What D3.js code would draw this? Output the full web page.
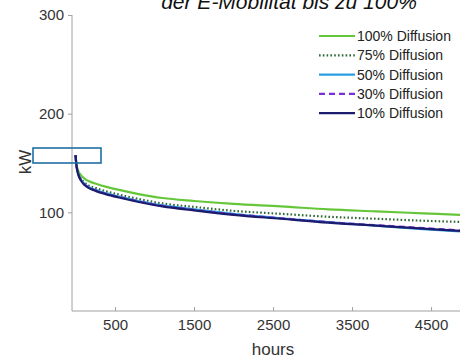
<!DOCTYPE html>
<html>
<head>
<meta charset="utf-8">
<script src="https://cdn.jsdelivr.net/npm/d3@7"></script>
<style>
  body { margin: 0; background: #fff; }
  svg { display: block; font-family: "Liberation Sans", Arial, sans-serif; }
</style>
</head>
<body>
<div id="chart"></div>
<script>
var hours = [0, 8, 20, 40, 70, 110, 170, 260, 380, 550, 800, 1100, 1500, 2000, 2600, 3200, 3800, 4400, 5000];
var d100 = [158, 151, 145.5, 141, 137.5, 134.5, 131.5, 129, 126, 122.7, 118.5, 114.5, 111.5, 108.5, 106, 103, 101, 99, 97];
var d75 = [158, 150.5, 144, 138.5, 134, 130.5, 127, 124.5, 121.5, 118, 113.5, 109, 105.5, 101.5, 98.5, 95.5, 93.5, 91.5, 90];
var d50 = [158, 150, 143.5, 137.5, 133, 129, 125.5, 122.5, 119.5, 116, 111.5, 107, 103, 98.5, 94, 90, 86.5, 83, 80];
var d30 = [158, 150, 143, 137.5, 132.5, 128.5, 125, 122, 119, 115.5, 111, 106.5, 102.5, 98, 94, 90, 87, 84, 81];
var d10 = [158, 150, 143, 137, 132, 128, 124.5, 121.5, 118.5, 115, 110.5, 106, 102, 97.5, 93.5, 89.5, 86.5, 83.5, 80.5];
var names = ['100% Diffusion', '75% Diffusion', '50% Diffusion', '30% Diffusion', '10% Diffusion'];
var xTicks = [500, 1500, 2500, 3500, 4500];
var yTicks = [100, 200, 300];

var WIDTH = 460, HEIGHT = 359;
var series = [
  { name: names[0], values: d100, color: '#66c63a', dash: null },
  { name: names[1], values: d75, color: '#2f6a35', dash: '1.6,2.2' },
  { name: names[2], values: d50, color: '#2a9ee2', dash: null },
  { name: names[3], values: d30, color: '#7a2fd2', dash: '6,4' },
  { name: names[4], values: d10, color: '#1c1c6c', dash: null }
];

var x = d3.scaleLinear().domain([-45, 5000]).range([72, 72 + 5045 * 0.079]);
var y = d3.scaleLinear().domain([0, 300]).range([311, 15]);

var svg = d3.select('#chart').append('svg')
  .attr('width', WIDTH)
  .attr('height', HEIGHT);

svg.append('defs').append('clipPath').attr('id', 'clip')
  .append('rect').attr('x', 72).attr('y', 0).attr('width', WIDTH - 72).attr('height', 311);

// title, cut off at the top like in the source
svg.append('text')
  .attr('x', 289).attr('y', 9)
  .attr('text-anchor', 'middle')
  .attr('font-size', 21)
  .attr('font-style', 'italic')
  .attr('fill', '#111')
  .text('der E-Mobilität bis zu 100%');

// axes
var xAxis = d3.axisBottom(x).tickValues(xTicks).tickFormat(d3.format('d')).tickSize(-4).tickPadding(8);
var yAxis = d3.axisLeft(y).tickValues(yTicks).tickSize(4).tickPadding(4);

var gx = svg.append('g').attr('transform', 'translate(0,311)').call(xAxis);
var gy = svg.append('g').attr('transform', 'translate(72,0)').call(yAxis);
[gx, gy].forEach(function(g) {
  g.select('.domain').remove();
  g.selectAll('line').attr('stroke', '#a0a0a0');
  g.selectAll('text').attr('font-size', 15).attr('fill', '#333')
    .attr('font-family', '"Liberation Sans", Arial, sans-serif');
});
svg.append('line').attr('x1', 72).attr('x2', 72).attr('y1', 15).attr('y2', 311)
  .attr('stroke', '#a0a0a0');
svg.append('line').attr('x1', 72).attr('x2', WIDTH).attr('y1', 311).attr('y2', 311)
  .attr('stroke', '#a0a0a0');

svg.append('text').attr('x', 273).attr('y', 355)
  .attr('text-anchor', 'middle').attr('font-size', 17).attr('fill', '#333')
  .text('hours');
svg.append('text')
  .attr('transform', 'translate(31,162) rotate(-90)')
  .attr('text-anchor', 'middle').attr('font-size', 17).attr('fill', '#333')
  .text('kW');

// curves
var line = d3.line()
  .x(function(d, i) { return x(hours[i]); })
  .y(function(d) { return y(d); })
  .curve(d3.curveMonotoneX);

svg.append('g').attr('clip-path', 'url(#clip)')
  .selectAll('path').data(series).enter().append('path')
  .attr('d', function(s) { return line(s.values); })
  .attr('fill', 'none')
  .attr('stroke', function(s) { return s.color; })
  .attr('stroke-width', 2.2)
  .attr('stroke-dasharray', function(s) { return s.dash; });

// highlight box
svg.append('rect').attr('x', 33).attr('y', 148).attr('width', 68).attr('height', 15)
  .attr('fill', 'none').attr('stroke', '#1f6fa3').attr('stroke-width', 1.6);

// legend
var leg = svg.append('g').selectAll('g').data(series).enter().append('g')
  .attr('transform', function(s, i) { return 'translate(319,' + (36 + i * 19.3) + ')'; });
leg.append('line').attr('x1', 0).attr('x2', 36).attr('y1', 0).attr('y2', 0)
  .attr('stroke', function(s) { return s.color; })
  .attr('stroke-width', 2.2)
  .attr('stroke-dasharray', function(s) { return s.dash; });
leg.append('text').attr('x', 38).attr('y', 5)
  .attr('font-size', 14).attr('fill', '#222')
  .text(function(s) { return s.name; });
</script>
</body>
</html>
